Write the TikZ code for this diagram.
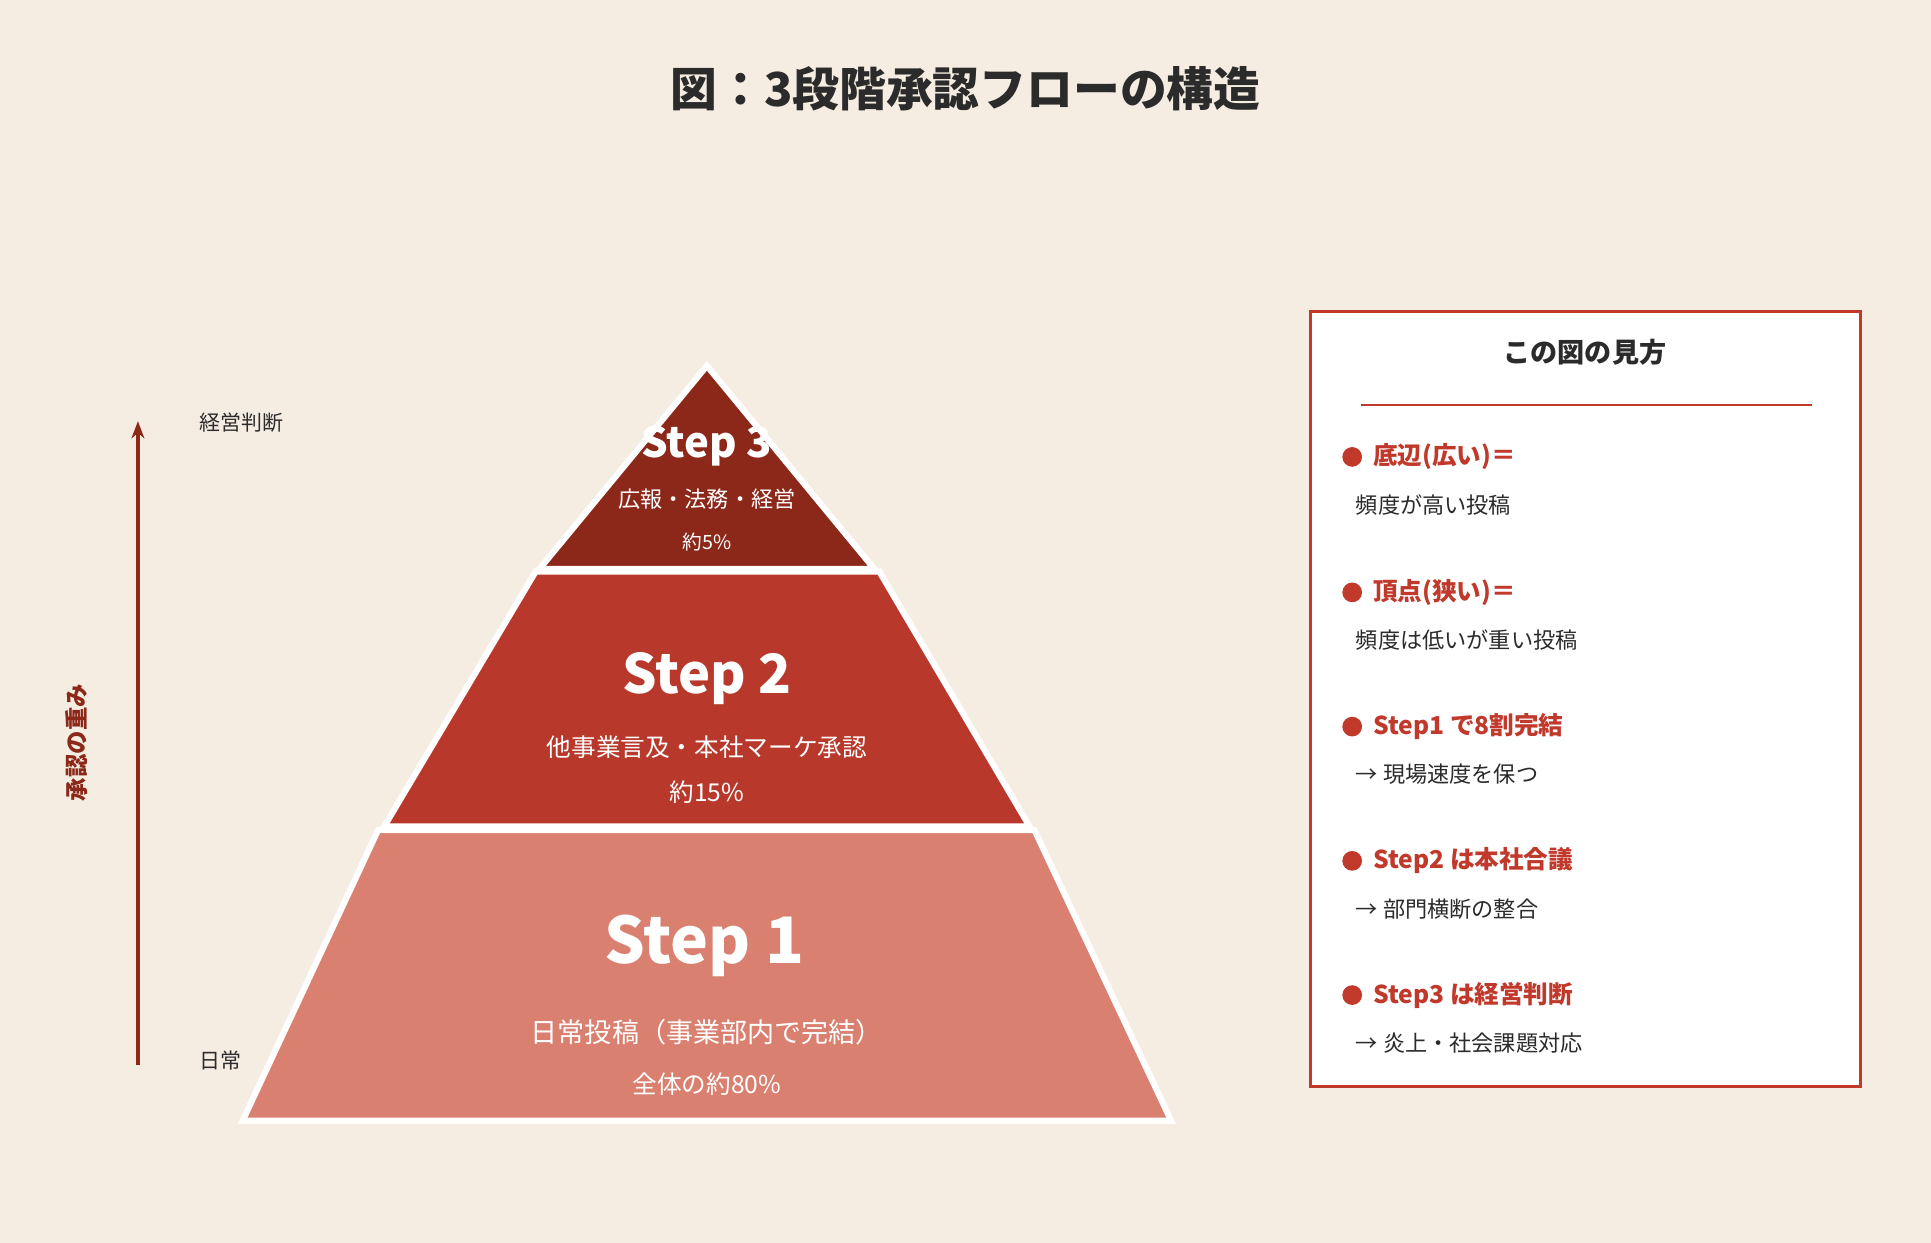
\documentclass[tikz,border=0pt]{standalone}
\usepackage{fontspec}
\setmainfont{Noto Sans CJK JP}
\usetikzlibrary{arrows.meta}
\definecolor{bg}{HTML}{F5EDE2}
\definecolor{stepthree}{HTML}{8B2819}
\definecolor{steptwo}{HTML}{B8392C}
\definecolor{stepone}{HTML}{D98070}
\definecolor{accent}{HTML}{C0392B}
\definecolor{ink}{HTML}{2B2B2B}
\tikzset{
  band/.style={draw=white, line width=2.5pt, line join=miter},
  steplabel/.style={text=white, font=\bfseries},
  subtext/.style={text=white, font=\fontsize{10}{12}\selectfont},
  keyhead/.style={anchor=west, text=accent, font=\bfseries\fontsize{10}{12}\selectfont},
  keytext/.style={anchor=west, text=ink, font=\fontsize{9}{11}\selectfont},
  sidelabel/.style={anchor=west, text=ink, font=\fontsize{8.5}{10}\selectfont}
}
\begin{document}
\begin{tikzpicture}[x=0.5pt, y=-0.5pt]
            % background
            \fill[bg] (0,0) rectangle (1568,1009);
            \useasboundingbox (0,0) rectangle (1568,1009);

            % title
            \node[text=ink, font=\bfseries\fontsize{19}{22}\selectfont] (title) at (784,72) {図：3段階承認フローの構造};

            % pyramid bands
            \draw[band, fill=stepone] (307,674) -- (840,674) -- (951,910) -- (197,910) -- cycle;
            \draw[band, fill=steptwo] (435,464) -- (714,464) -- (836,671) -- (312,671) -- cycle;
            \draw[band, fill=stepthree] (574,297) -- (710,462) -- (438,462) -- cycle;

            % band texts
            \node[steplabel, font=\bfseries\fontsize{17}{20}\selectfont] (s3) at (574,362) {Step 3};
            \node[subtext, font=\fontsize{9}{11}\selectfont] (s3a) at (574,405) {広報・法務・経営};
            \node[subtext, font=\fontsize{8}{10}\selectfont] (s3b) at (574,440) {約5\%};
            \node[steplabel, font=\bfseries\fontsize{22}{26}\selectfont] (s2) at (574,551) {Step 2};
            \node[subtext] (s2a) at (574,607) {他事業言及・本社マーケ承認};
            \node[subtext] (s2b) at (574,643) {約15\%};
            \node[steplabel, font=\bfseries\fontsize{26}{30}\selectfont] (s1) at (572,768) {Step 1};
            \node[subtext, font=\fontsize{11}{13}\selectfont] (s1a) at (574,838) {日常投稿（事業部内で完結）};
            \node[subtext] (s1b) at (574,880) {全体の約80\%};

            % weight axis
            \coordinate (low) at (112,865);
            \coordinate (high) at (112,342);
            \draw[stepthree, line width=1.5pt, -{Stealth[length=7pt]}] (low) -- (high);
            \node[sidelabel] (top) at (155,343) {経営判断};
            \node[sidelabel] (bottom) at (155,861) {日常};
            \node[rotate=90, text=stepthree, font=\bfseries\fontsize{9.5}{11}\selectfont] (weight) at (62,603) {承認の重み};

            % legend
            \draw[accent, line width=1.2pt, fill=white] (1064,253) rectangle (1511,882);
            \node[text=ink, font=\bfseries\fontsize{11}{13}\selectfont] (keytitle) at (1287,286) {この図の見方};
            \draw[accent, line width=0.8pt] (1105,329) -- (1471,329);
            \foreach \y/\head/\body [count=\i] in {
                371/底辺(広い)＝/頻度が高い投稿,
                481/頂点(狭い)＝/頻度は低いが重い投稿,
                590/Step1 で8割完結/→ 現場速度を保つ,
                699/Step2 は本社合議/→ 部門横断の整合,
                808/Step3 は経営判断/→ 炎上・社会課題対応} {
                \fill[accent] (1098,\y) circle (8);
                \node[keyhead] (key\i) at (1108,\y) {\head};
                \node[keytext] (note\i) at (1094,\y+39) {\body};
            }
\end{tikzpicture}
\end{document}
